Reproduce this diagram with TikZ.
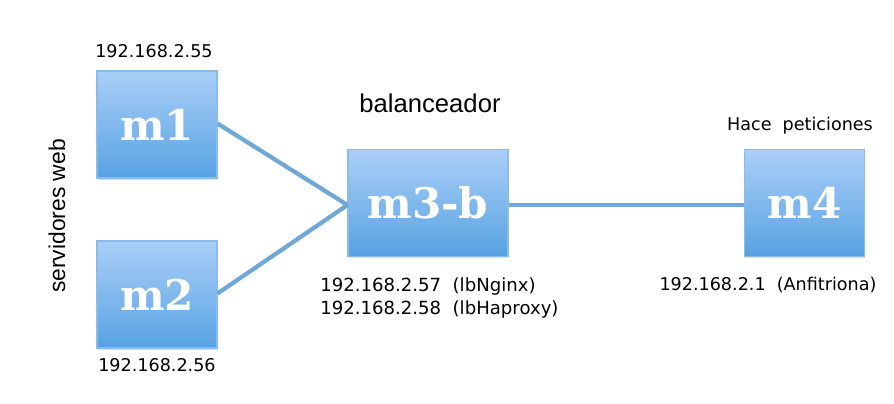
\documentclass[tikz,border=0pt]{standalone}
\usepackage{fontspec}
\setmainfont{DejaVu Sans}
\newfontfamily\maqfont{DejaVu Serif}
\newfontfamily\helvfont{Liberation Sans}
\usepackage{tikz}
\usetikzlibrary{calc, positioning, shadows}

\definecolor{cajaarriba}{HTML}{AACFF8}
\definecolor{cajaabajo}{HTML}{57A2E2}
\definecolor{cajaborde}{HTML}{8BBBE8}
\definecolor{enlace}{HTML}{6FA7D6}

\begin{document}
\begin{tikzpicture}[x=0.02cm, y=-0.02cm,
	maquina/.style={draw=cajaborde, line width=0.6pt, top color=cajaarriba, bottom color=cajaabajo,
		minimum width=2.4cm, minimum height=2.14cm, inner sep=0pt,
		text=white, font=\maqfont\bfseries\fontsize{24}{28}\selectfont,
		drop shadow={shadow xshift=0.5pt, shadow yshift=-1pt, opacity=0.25}},
	ip/.style={font=\fontsize{10}{13}\selectfont, inner sep=0pt},
	enl/.style={draw=enlace, line width=2.4pt}]
	\useasboundingbox (0,0) rectangle (894,403);
	
	%Maquinas
	\node[maquina] (m1) at (157,124.5) {m1};
	\node[maquina] (m2) at (157,294.5) {m2};
	\node[maquina, minimum width=3.2cm] (m3) at (428,203) {m3-b};
	\node[maquina] (m4) at (804.5,203) {m4};
	
	%Conexiones
	\coordinate (entrada) at ($(m3.west)+(0,2)$);
	\draw[enl] ($(m1.east)+(0,-1)$) -- (entrada);
	\draw[enl] ($(m2.east)+(0,-1)$) -- (entrada);
	\draw[enl] (entrada -| m3.east) -- (entrada -| m4.west);
	
	%Etiquetas
	\node[ip] (ip1) at (154,51) {192.168.2.55};
	\node[ip] (ip2) at (157,365) {192.168.2.56};
	\node[ip, anchor=west, align=left, font=\fontsize{10.3}{13}\selectfont] (ip3) at (320,298) {192.168.2.57\ \ (lbNginx)\\192.168.2.58\ \ (lbHaproxy)};
	\node[ip] (ip4) at (768,285) {192.168.2.1\ \ (Anfitriona)};
	\node[ip] (pet) at (800,126) {Hace\ \ peticiones};
	\node[font=\helvfont\fontsize{14.6}{16}\selectfont, inner sep=0pt] (bal) at (430,103) {balanceador};
	\node[font=\helvfont\fontsize{13}{15}\selectfont, inner sep=0pt, rotate=90] (web) at (57,216) {servidores web};
	
\end{tikzpicture}
\end{document}
